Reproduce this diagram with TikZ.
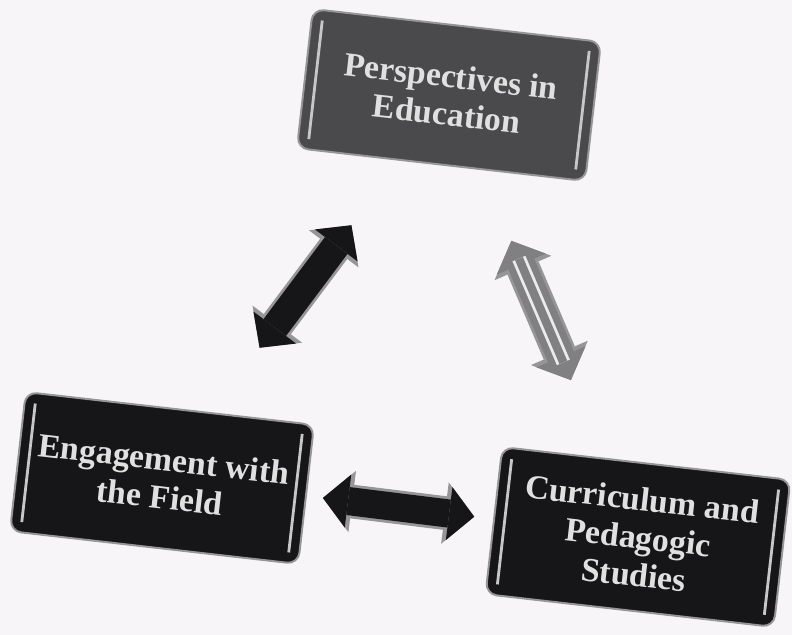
\documentclass[tikz,border=0pt]{standalone}
\usepackage{fontspec}
\setmainfont{Liberation Serif}
\usetikzlibrary{arrows.meta,calc}
\definecolor{paper}{RGB}{247,245,247}
\definecolor{slatebox}{RGB}{74,74,76}
\definecolor{inkbox}{RGB}{22,22,24}
\definecolor{rimgray}{RGB}{150,150,152}
\definecolor{stripegray}{RGB}{128,128,130}

% light bars just inside the left and right edges of a box
\newcommand{\edgebars}[1]{%
  \path ($(#1.north west)!0.04!(#1.north east)$) coordinate (#1-tl)
        ($(#1.south west)!0.04!(#1.south east)$) coordinate (#1-bl)
        ($(#1.north east)!0.04!(#1.north west)$) coordinate (#1-tr)
        ($(#1.south east)!0.04!(#1.south west)$) coordinate (#1-br);
  \draw[sidebar] ($(#1-tl)!0.08!(#1-bl)$) -- ($(#1-bl)!0.08!(#1-tl)$);
  \draw[sidebar] ($(#1-tr)!0.08!(#1-br)$) -- ($(#1-br)!0.08!(#1-tr)$);
}

\begin{document}
\begin{tikzpicture}[
    x=0.025cm, y=-0.025cm,
    areabox/.style={rounded corners=8pt, draw=rimgray, line width=1.4pt,
        minimum width=7.25cm, minimum height=3.5cm, rotate=-6.5,
        font=\fontsize{24}{27}\selectfont\bfseries, text=white!88!black, align=center},
    sidebar/.style={draw=white!78!black, line width=2pt},
    twoway/.style={line width=20pt,
        {Triangle[width=38pt,length=18pt,line width=0pt]}-{Triangle[width=38pt,length=18pt,line width=0pt]},
        preaction={draw=rimgray, line width=24pt,
        {Triangle[width=44pt,length=21pt,line width=0pt]}-{Triangle[width=44pt,length=21pt,line width=0pt]}}},
    stripes/.style={draw=white!92!black, line width=2pt, double=stripegray, double distance=6pt},
]

\path[use as bounding box, fill=paper] (0,0) rectangle (792,635);

% === three areas ===
\node[areabox, fill=slatebox] (persp) at (449,95) {Perspectives in\\Education};
\node[areabox, fill=inkbox] (engage) at (162,478) {Engagement with\\the Field};
\node[areabox, fill=inkbox, minimum height=3.7cm] (curric) at (638,537) {Curriculum and\\Pedagogic\\Studies};

\edgebars{persp}
\edgebars{engage}
\edgebars{curric}

% === links between areas ===
\draw[twoway, draw=inkbox] ($(engage)!0.34!(persp)$) -- ($(engage)!0.66!(persp)$);
\draw[twoway, draw=stripegray] ($(persp)!0.33!(curric)$) -- ($(persp)!0.645!(curric)$);
\draw[stripes] ($(persp)!0.37!(curric)$) -- ($(persp)!0.605!(curric)$);
\draw[twoway, draw=inkbox] ($(engage)!0.338!(curric)$) -- ($(engage)!0.656!(curric)$);

\end{tikzpicture}
\end{document}
